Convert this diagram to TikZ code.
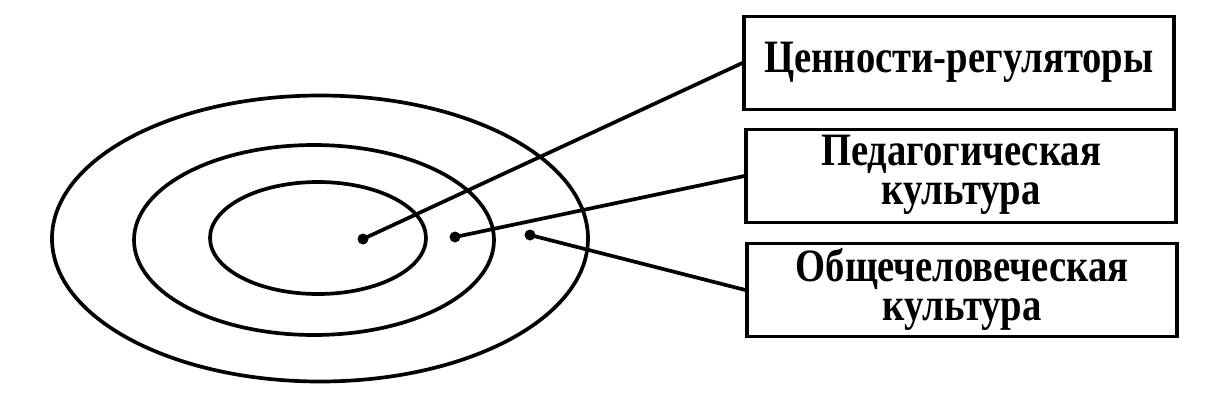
\documentclass[tikz,border=0pt]{standalone}
\usepackage{fontspec}
\setmainfont{Liberation Serif}
\newcommand\talltext[1]{\scalebox{1}[1.2]{\begin{tabular}{@{}c@{}}#1\end{tabular}}}

\begin{document}
\begin{tikzpicture}[x=.02cm,y=-.02cm,line width=2.1pt,
  box/.style={draw,line width=1.9pt,minimum width=8.6cm,minimum height=1.85cm,inner sep=0pt,
    font=\bfseries\fontsize{22}{18.5}\selectfont},
  dot/.style={circle,fill,inner sep=0pt,minimum size=.22cm}]
\useasboundingbox (0,0) rectangle (1218,403);
% rings
\draw (320,238.5) ellipse (268 and 143);
\draw (314,240) ellipse (180 and 95);
\draw (318,238) ellipse (108 and 56);
\node[dot] (c1) at (363,239) {};
\node[dot] (c2) at (455,237) {};
\node[dot] (c3) at (530,235) {};
% labels
\node[box] (r1) at (959,63) {\talltext{Ценности-регуляторы}};
\node[box] (r2) at (961,176) {\talltext{Педагогическая\\культура}};
\node[box] (r3) at (962,290) {\talltext{Общечеловеческая\\культура}};
\draw (c1.center)--(r1.west);
\draw (c2.center)--(r2.west);
\draw (c3.center)--(r3.west);
\end{tikzpicture}
\end{document}
